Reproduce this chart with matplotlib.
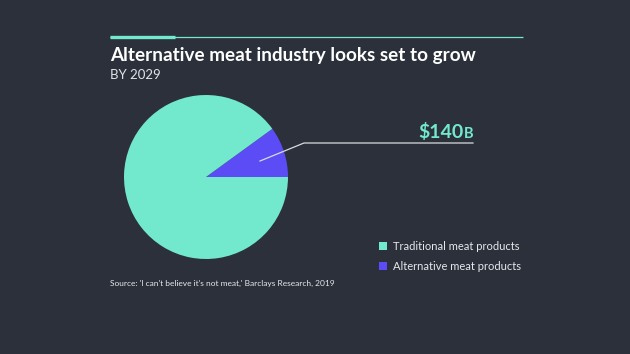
import matplotlib.pyplot as plt

# data
labels = ['Alternative meat products', 'Traditional meat products']
shares = [10, 90]          # % of a $1.4T meat market by 2029
alt_value_label = '$140'
alt_value_unit = 'B'

BG = '#2b303b'
TEAL = '#72e8cc'
BLUE = '#5b4cf5'
W, H = 630, 354

plt.rcParams['font.family'] = ['Lato', 'DejaVu Sans']

fig = plt.figure(figsize=(W / 100, H / 100), dpi=100, facecolor=BG)
ax = fig.add_axes([0, 0, 1, 1])
ax.set_facecolor(BG)


def Y(y):
    # pixel row (from top) -> data y
    return H - y


ax.pie(shares, colors=[BLUE, TEAL], startangle=0, counterclock=True,
       center=(206, Y(177)), radius=82, frame=True,
       wedgeprops=dict(linewidth=0))
ax.set_xlim(0, W)
ax.set_ylim(0, H)
ax.set_aspect('equal')
ax.axis('off')

# top rule
ax.plot([110, 523], [Y(37), Y(37)], color=TEAL, lw=0.9, solid_capstyle='butt')
ax.plot([110, 175], [Y(37), Y(37)], color=TEAL, lw=2.4, solid_capstyle='butt')

ax.text(110, Y(61), 'Alternative meat industry looks set to grow',
        color='white', fontsize=13.6, fontweight='bold', va='baseline', ha='left')
ax.text(110, Y(79), 'BY 2029', color='#dfe2e6', fontsize=9.5,
        va='baseline', ha='left')

# leader line + callout
ax.plot([260, 304, 473], [Y(161), Y(143), Y(143)], color='#d8dbe0', lw=0.9)
t = ax.text(418, Y(138), alt_value_label, color=TEAL, fontsize=14,
            fontweight='bold', va='baseline', ha='left')
fig.canvas.draw()
bb = t.get_window_extent()
ax.text(bb.x1 + 1, Y(138), alt_value_unit, color=TEAL, fontsize=10.5,
        fontweight='bold', va='baseline', ha='left')

# legend
for lab, col, yy in [(labels[1], TEAL, 246), (labels[0], BLUE, 266)]:
    ax.add_patch(plt.Rectangle((379, Y(yy) - 4), 8, 8, color=col, lw=0))
    ax.text(393, Y(yy), lab, color='#e6e8eb', fontsize=8,
            va='center', ha='left')

ax.text(110, Y(283), "Source: 'I can't believe it's not meat,' Barclays Research, 2019",
        color='#e6e8eb', fontsize=6, va='center', ha='left')

fig.savefig('out.png', dpi=100, facecolor=BG)
